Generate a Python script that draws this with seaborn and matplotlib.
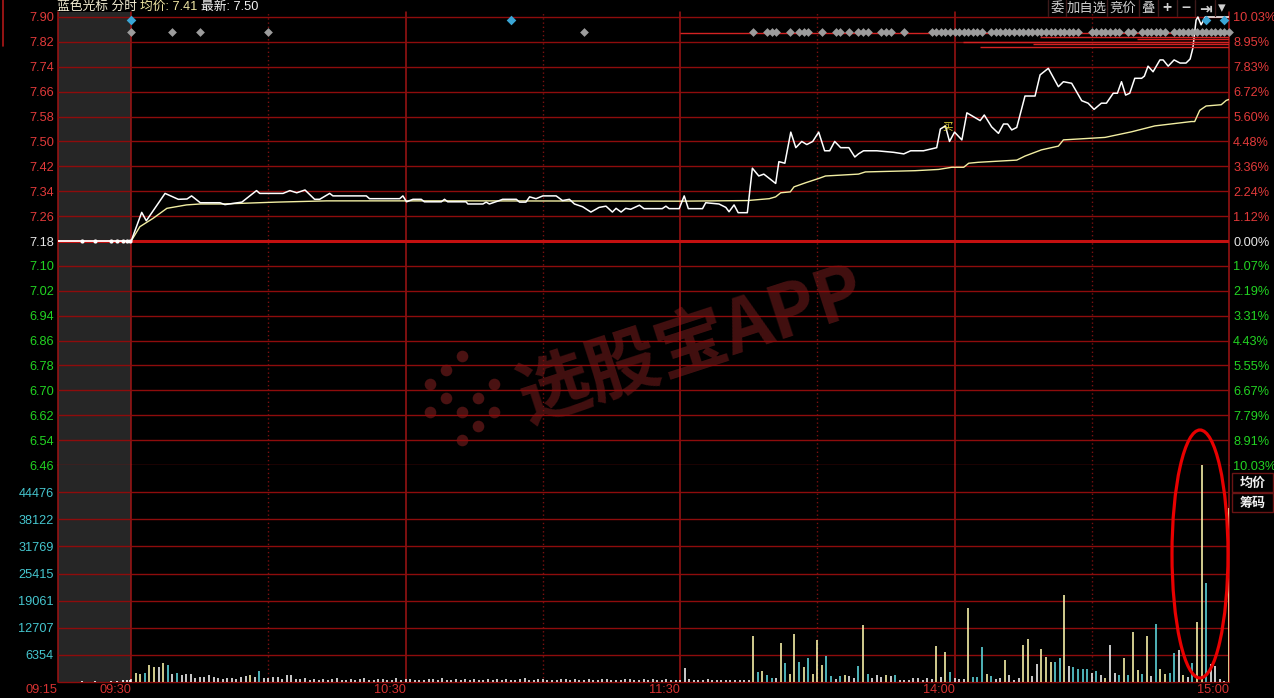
import matplotlib
matplotlib.use('Agg')
import matplotlib.pyplot as plt
import matplotlib.transforms as mtransforms
from matplotlib.patches import Ellipse, Rectangle
from matplotlib.lines import Line2D
import numpy as np
import pandas as pd
import seaborn as sns

sns.set_theme(style='dark', rc={'axes.facecolor': 'black', 'figure.facecolor': 'black'})
plt.rcParams['font.family'] = ['Liberation Sans', 'Noto Sans CJK SC', 'DejaVu Sans']
plt.rcParams['axes.unicode_minus'] = False

# ---------------- data ----------------
PREV_CLOSE = 7.18
price_ticks = [7.90, 7.82, 7.74, 7.66, 7.58, 7.50, 7.42, 7.34, 7.26, 7.18,
               7.10, 7.02, 6.94, 6.86, 6.78, 6.70, 6.62, 6.54, 6.46]
pct_labels = ['10.03%', '8.95%', '7.83%', '6.72%', '5.60%', '4.48%', '3.36%', '2.24%', '1.12%', '0.00%',
              '1.07%', '2.19%', '3.31%', '4.43%', '5.55%', '6.67%', '7.79%', '8.91%', '10.03%']
vol_step = 6353.7
vol_labels = ['6354', '12707', '19061', '25415', '31769', '38122', '44476']
time_pos = [-16, 0, 60, 120, 180, 240]
time_labels = ['09:15', '09:30', '10:30', '11:30', '14:00', '15:00']

# price line (minutes after 09:30, trading-time axis)
price_min = [0, 2.3, 3.3, 7.4, 10.3, 12.2, 13.2, 15.1, 19.4, 20.5, 24.2, 27.4, 28.1, 33.2, 34.7, 36.2,
             38.0, 40.1, 41.2, 43.4, 44.1, 51.4, 52.1, 58.7, 59.4, 60.2, 61.6, 63.4, 64.1, 67.8, 68.5,
             69.2, 73.2, 73.6, 76.9, 77.6, 78.3, 80.5, 81.2, 84.2, 84.9, 86.3, 87.1, 88.5, 90.0, 92.9,
             94.3, 95.8, 96.9, 98.7, 100.5, 102.3, 103.8, 105.2, 106.0, 107.1, 108.1, 109.2, 111.1,
             112.1, 116.1, 116.9, 117.6, 119.8, 120.9, 121.8, 124.9, 125.6, 128.5, 130.0, 130.7, 131.8,
             132.7, 134.7, 135.8, 137.2, 138.3, 140.9, 141.6, 142.9, 144.2, 145.3, 146.6, 147.7, 149.0,
             150.3, 151.6, 152.7, 153.8, 155.1, 156.9, 158.2, 159.0, 160.1, 163.0, 166.7, 168.9, 170.4,
             173.2, 176.1, 176.9, 178.0, 178.9, 180.0, 181.6, 182.7, 184.1, 185.6, 186.5, 188.1, 189.6,
             190.7, 191.6, 192.5, 193.6, 195.4, 197.6, 198.7, 200.5, 202.7, 203.8, 205.6, 207.8, 209.2,
             210.5, 212.1, 213.2, 214.7, 215.6, 216.5, 217.4, 218.3, 219.4, 220.9, 221.5, 222.3, 223.4,
             224.9, 225.6, 226.7, 228.0, 229.3, 230.6, 231.5, 232.1, 232.8, 233.2, 233.9, 234.8, 240]
price_val = [7.18, 7.272, 7.245, 7.333, 7.314, 7.315, 7.325, 7.303, 7.303, 7.297, 7.305, 7.342, 7.333,
             7.333, 7.342, 7.335, 7.344, 7.314, 7.314, 7.333, 7.325, 7.325, 7.316, 7.316, 7.325, 7.306,
             7.314, 7.314, 7.306, 7.306, 7.314, 7.306, 7.306, 7.299, 7.299, 7.305, 7.299, 7.310, 7.314,
             7.314, 7.305, 7.305, 7.322, 7.316, 7.325, 7.325, 7.310, 7.314, 7.299, 7.290, 7.273, 7.288,
             7.292, 7.273, 7.285, 7.273, 7.285, 7.282, 7.295, 7.284, 7.284, 7.292, 7.284, 7.284, 7.325,
             7.284, 7.284, 7.303, 7.299, 7.288, 7.274, 7.296, 7.271, 7.271, 7.414, 7.389, 7.395, 7.365,
             7.435, 7.43, 7.53, 7.48, 7.50, 7.49, 7.50, 7.53, 7.47, 7.47, 7.50, 7.48, 7.48, 7.45, 7.46,
             7.47, 7.47, 7.465, 7.46, 7.47, 7.47, 7.48, 7.54, 7.55, 7.50, 7.53, 7.505, 7.592, 7.580,
             7.567, 7.585, 7.547, 7.526, 7.556, 7.556, 7.537, 7.545, 7.646, 7.646, 7.714, 7.735, 7.676,
             7.692, 7.687, 7.631, 7.623, 7.603, 7.623, 7.623, 7.655, 7.655, 7.692, 7.649, 7.655, 7.703,
             7.703, 7.710, 7.742, 7.724, 7.762, 7.762, 7.742, 7.762, 7.752, 7.752, 7.765, 7.80, 7.89,
             7.90, 7.875, 7.90, 7.90]

avg_min = [0, 1.9, 4.8, 7.8, 12.1, 15.1, 20.0, 31.8, 42.7, 73.2, 120.0, 134.7, 139.5, 140.9, 142.0,
           144.1, 144.9, 147.4, 150.3, 151.8, 159.0, 160.5, 171.4, 176.5, 179.4, 182.0, 183.1, 185.2,
           193.6, 195.4, 199.0, 202.7, 203.8, 212.9, 218.7, 223.8, 231.8, 232.5, 233.6, 235.0, 238.3,
           239.4, 240]
avg_val = [7.18, 7.226, 7.253, 7.285, 7.296, 7.299, 7.299, 7.305, 7.309, 7.309, 7.308, 7.310, 7.316,
           7.322, 7.335, 7.338, 7.354, 7.367, 7.381, 7.389, 7.395, 7.402, 7.406, 7.410, 7.417, 7.417,
           7.430, 7.433, 7.440, 7.453, 7.473, 7.485, 7.505, 7.513, 7.531, 7.550, 7.564, 7.564, 7.600,
           7.614, 7.618, 7.632, 7.635]

# call-auction (09:15-09:30) ticks
pre_line_min = [-16, 0]
pre_line_val = [7.18, 7.18]
pre_min = [-10.8, -7.9, -4.4, -3.1, -1.8, -0.9, -0.3]
pre_val = [7.18, 7.18, 7.18, 7.18, 7.18, 7.18, 7.18]
pre_vol = [300, 350, 300, 350, 400, 450, 500]

# per-minute volume, 09:30 .. 11:30 (minutes 0..120)
vol_am = [630, 2040, 1880, 2040, 3920, 3520, 3450, 4390, 3920, 1880, 2040, 1570, 1880, 1880, 940, 1250,
          1250, 1570, 1100, 940, 780, 940, 940, 780, 1100, 1410, 1720, 1250, 2510, 940, 940, 1250,
          1250, 780, 1720, 1570, 780,
          620, 900, 470, 700, 550, 780, 400, 620, 860, 470, 550, 700,
          390, 620, 1020, 470, 550, 700, 620, 390, 470, 860, 550, 620,
          700, 470, 390, 550, 780, 620, 470, 940, 550, 390, 620, 470,
          700, 550, 620, 390, 470, 780, 550, 620, 470, 700, 390, 550,
          620, 860, 470, 550, 700, 620, 390, 470, 550, 780, 620, 470,
          700, 550, 390, 620, 470, 550, 700, 620, 470, 390, 550, 620,
          780, 470, 550, 620, 390, 700, 470, 550, 620, 470, 390, 550]
col_am = "wyycyywycwc" + "w" * 15 + "ywc" + "w" * 8 + "w" * 84
# per-minute volume, 13:01 .. 15:00 (minutes 121..240)
vol_pm = [3300, 620, 470, 550, 390, 620, 470, 550, 470, 390,
          470, 470, 470, 470, 470,
          10820, 2430, 2670, 1650, 940, 940, 9250, 4550, 1880, 11290,
          4700, 3610, 5640, 1880, 9880, 4000, 6120, 1410, 780, 1410,
          1650, 1410, 940, 3760, 13400, 1880, 940, 1570, 1100, 1570,
          1410, 1570, 470, 470, 470, 940, 940, 470, 940, 780,
          8470, 1100, 7060, 2430, 940, 780, 630, 17400, 1100, 1100,
          8230, 1880, 1410, 780, 940, 5170, 1570, 470, 940, 8700,
          10110, 1410, 4230, 7760, 5800, 4700, 4700, 5640, 20400, 3760,
          3450, 2980, 2980, 2980, 2200, 2510, 1570, 940, 8700, 2200,
          1570, 5640, 1570, 11760, 2820, 1880, 10820, 1410, 13640, 2980,
          1880, 2200, 6900, 7530, 1570, 1100, 4550, 14110, 50800, 23200,
          4230, 3760, 630, 300, 40800]
col_pm = ("w" * 15 + "ycyccwycyy" + "cycyyyccwc" + "ywwcycwwwy" + "wcwwwwwwww" + "ywycwwwycc"
          + "cycwwywwwy" + "ywwyyyccyw" + "ccccwcwyww" + "cycyycywcy" + "yccwywcyyc" + "wwwwy")

# signal diamonds (minutes)
blue_min = [0, 83, 235, 239]
gray_min = [0, 9, 15, 30, 99, 136, 139, 140, 141, 144, 146, 147, 148, 151, 154, 155, 157, 159, 160,
            161, 164, 165, 166, 169,
            175, 176, 177, 178, 179, 180, 181, 182, 183, 184, 185, 186,
            188, 189, 190, 191, 192, 193, 194, 195, 196, 197, 198, 199, 200, 201, 202, 203, 204, 205,
            206, 207, 210, 211, 212, 213, 214, 215, 216, 218, 219, 221, 222, 223, 224, 225, 226,
            228, 229, 230, 231, 232, 233, 234, 235, 236, 237, 238, 239, 240]
# big-order price lines (start minute, price)
order_start = [120, 198.7, 219.9, 181.9, 197.2, 185.6]
order_price = [7.848, 7.837, 7.828, 7.819, 7.812, 7.805]
buy_mark_min = [178.5]
buy_mark_price = [7.548]

# ---------------- figure ----------------
W, H = 1274, 698
fig = plt.figure(figsize=(W / 100, H / 100), dpi=100, facecolor='black')
def fx(x): return x / W
def fy(y): return 1 - y / H

L, R = 58, 1229
P_TOP, P_BOT, V_BOT = 12, 465, 682
ax_p = fig.add_axes([fx(L), fy(P_BOT), fx(R) - fx(L), fy(P_TOP) - fy(P_BOT)])
ax_v = fig.add_axes([fx(L), fy(V_BOT), fx(R) - fx(L), fy(P_BOT) - fy(V_BOT)])

GRID = '#8e0c0c'
GRAY_BG = '#262626'
px_per_price = (P_BOT - 17) / (7.90 - 6.46)
top_price = 7.90 + (17 - P_TOP) / px_per_price

# price panel
df_pre = pd.DataFrame({'t': pre_line_min, 'p': pre_line_val})
df_price = pd.DataFrame({'t': price_min, 'p': price_val})
df_avg = pd.DataFrame({'t': avg_min, 'p': avg_val})
sns.lineplot(data=df_avg, x='t', y='p', ax=ax_p, color='#f2eea2', lw=1.0, estimator=None, sort=False, zorder=4)
sns.lineplot(data=df_price, x='t', y='p', ax=ax_p, color='white', lw=1.1, estimator=None, sort=False, zorder=5)
sns.lineplot(data=df_pre, x='t', y='p', ax=ax_p, color='white', lw=1.3, estimator=None, sort=False, zorder=5)
ax_p.scatter(pre_min, pre_val, s=9, color='white', zorder=6, linewidths=0)

# volume panel
v_all = vol_am + vol_pm
c_all = col_am + col_pm
t_all = list(range(len(vol_am))) + [121 + i for i in range(len(vol_pm))]
cmap = {'y': '#f4eea6', 'c': '#5cd2d8', 'w': '#ececec'}
ax_v.vlines(t_all, 0, v_all, colors=[cmap[c] for c in c_all[:len(v_all)]], lw=1.2, zorder=4)
ax_v.vlines(pre_min, 0, pre_vol, colors='white', lw=1.2, zorder=4)

for ax in (ax_p, ax_v):
    ax.set_facecolor('black')
    for s in ax.spines.values():
        s.set_visible(False)
    ax.set_xlim(-16, 240)
    ax.grid(False)
    ax.set_xlabel('')
    ax.set_ylabel('')
    ax.axvspan(-16, 0, color=GRAY_BG, zorder=0, lw=0)
    for t in [-16, 0, 60, 120, 180, 240]:
        ax.axvline(t, color='#a01414', lw=1.1, zorder=1, clip_on=False)
    for t in [30, 90, 150, 210]:
        ax.axvline(t, color='#7a1010', lw=1.0, ls=(0, (1, 2)), zorder=1)

ax_p.set_ylim(6.46, top_price)
ax_v.set_ylim(0, 8 * vol_step)

for p in price_ticks:
    if abs(p - PREV_CLOSE) < 1e-6:
        ax_p.axhline(p, color='#c41010', lw=2.2, zorder=2)
    else:
        ax_p.axhline(p, color=GRID, lw=1.0, zorder=1, clip_on=False)
for k in range(1, 8):
    ax_v.axhline(k * vol_step, color=GRID, lw=1.0, zorder=1)
ax_v.axhline(0, color=GRID, lw=1.0, zorder=1, clip_on=False)

# tick labels
RED, GREEN, WHITE, CYAN = '#e23a3a', '#22d422', '#e8e8e8', '#45c6cf'
def col_for(p):
    if p > PREV_CLOSE + 1e-6:
        return RED
    if p < PREV_CLOSE - 1e-6:
        return GREEN
    return WHITE

ax_p.set_yticks(price_ticks, labels=[f'{p:.2f}' for p in price_ticks])
ax_p.tick_params(axis='y', length=0, pad=3, labelsize=9.2)
ax_p.tick_params(axis='x', length=0, labelbottom=False)
for lab, p in zip(ax_p.get_yticklabels(), price_ticks):
    lab.set_color(col_for(p))

ax_r = ax_p.twinx()
ax_r.set_ylim(6.46, top_price)
ax_r.set_yticks(price_ticks, labels=pct_labels)
ax_r.tick_params(axis='y', length=0, pad=3, labelsize=9.2)
ax_r.grid(False)
for s in ax_r.spines.values():
    s.set_visible(False)
ax_r.set_facecolor('none')
for lab, p in zip(ax_r.get_yticklabels(), price_ticks):
    lab.set_color(col_for(p))
ax_r.get_yticklabels()[-1].set_color(GREEN)

ax_v.set_yticks([k * vol_step for k in range(1, 8)], labels=vol_labels)
ax_v.tick_params(axis='y', length=0, pad=3, labelsize=9.2, labelcolor=CYAN)
ax_v.set_xticks(time_pos, labels=time_labels)
ax_v.tick_params(axis='x', length=0, pad=1.5, labelsize=9.2, labelcolor='#d83232')
for lab in ax_v.get_xticklabels():
    lab.set_ha('right')

# signal diamonds
btrans = mtransforms.blended_transform_factory(ax_p.transData, ax_p.transAxes)
ax_p.scatter(gray_min, [(P_BOT - 32) / (P_BOT - P_TOP)] * len(gray_min), transform=btrans,
             marker='D', s=20, color='#9c9c9c', linewidths=0, zorder=7, clip_on=False)
ax_p.scatter(blue_min, [(P_BOT - 20) / (P_BOT - P_TOP)] * len(blue_min), transform=btrans,
             marker='D', s=24, color='#3aa6d6', linewidths=0, zorder=7, clip_on=False)
ax_p.hlines(order_price, order_start, 240, colors='#d42222', lw=1.0, zorder=6)
for t, p in zip(buy_mark_min, buy_mark_price):
    ax_p.text(t, p, '买', color='#e6d63c', fontsize=7.5, ha='center', va='center', zorder=8,
              family=['Noto Sans CJK SC'])

# watermark (logo dots + wordmark)
logo_px = [(430, 384), (446, 370), (462, 356), (446, 398), (462, 412), (478, 398), (478, 426),
           (462, 440), (494, 384), (494, 412), (430, 412)]
ax_p.scatter([fx(x) for x, _ in logo_px], [fy(y) for _, y in logo_px], transform=fig.transFigure,
             s=70, color='#4a1212', linewidths=0, zorder=0.5)
ax_p.text(fx(692), fy(345), '选股宝APP', transform=fig.transFigure, rotation=18, fontsize=52,
          color='#421010', weight='bold', style='italic', ha='center', va='center', zorder=0.5,
          family=['Noto Sans CJK SC', 'DejaVu Sans'])

# header (chained pieces)
t1 = fig.text(fx(57), fy(7), '蓝色光标 分时', color='#f2ecd2', fontsize=9.2, va='center', ha='left')
t2 = fig.add_artist(matplotlib.text.Annotation('均价: 7.41', xy=(1, 0.5), xycoords=t1, xytext=(2.5, 0),
                                               textcoords='offset points', color='#f0e6a4',
                                               fontsize=9.2, va='center', ha='left'))
t3 = fig.add_artist(matplotlib.text.Annotation('最新: 7.50', xy=(1, 0.5), xycoords=t2, xytext=(2.5, 0),
                                               textcoords='offset points', color='#f2f2f2',
                                               fontsize=9.2, va='center', ha='left'))

# toolbar
tb_items = [('委', 1057), ('加自选', 1087), ('竞价', 1123), ('叠', 1148), ('+', 1167), ('−', 1186),
            ('⇥', 1205), ('▾', 1222)]
for txt, x in tb_items:
    fig.text(fx(x), fy(8), txt, color='#cfcfcf', fontsize=11 if txt in '+−⇥▾' else 9.6,
             weight='bold' if txt in '+−⇥' else 'normal', ha='center', va='center',
             family=['Noto Sans CJK SC', 'DejaVu Sans'])
for x in [1048, 1066, 1107, 1139, 1158, 1177, 1195, 1215]:
    fig.add_artist(Line2D([fx(x), fx(x)], [fy(0), fy(16)], color='#3c1a1a', lw=1))

# side buttons
for lbl, y0 in [('均价', 473), ('筹码', 493)]:
    fig.add_artist(Rectangle((fx(1232), fy(y0 + 19)), fx(1273) - fx(1232), fy(y0) - fy(y0 + 19),
                             fill=False, edgecolor='#6a1414', lw=1))
    fig.text(fx(1253), fy(y0 + 9.5), lbl, color='#f0f0f0', fontsize=9.4, weight='bold',
             ha='center', va='center', family=['Noto Sans CJK SC'])

fig.add_artist(Line2D([fx(2.5), fx(2.5)], [fy(0), fy(46)], color='#b01818', lw=1.2))

# highlight ellipse
fig.add_artist(Ellipse((fx(1200), fy(554)), width=56 / W, height=248 / H, transform=fig.transFigure,
                       fill=False, edgecolor='#e80000', lw=2.3, zorder=10))

fig.savefig('out.png', dpi=100, facecolor='black')
